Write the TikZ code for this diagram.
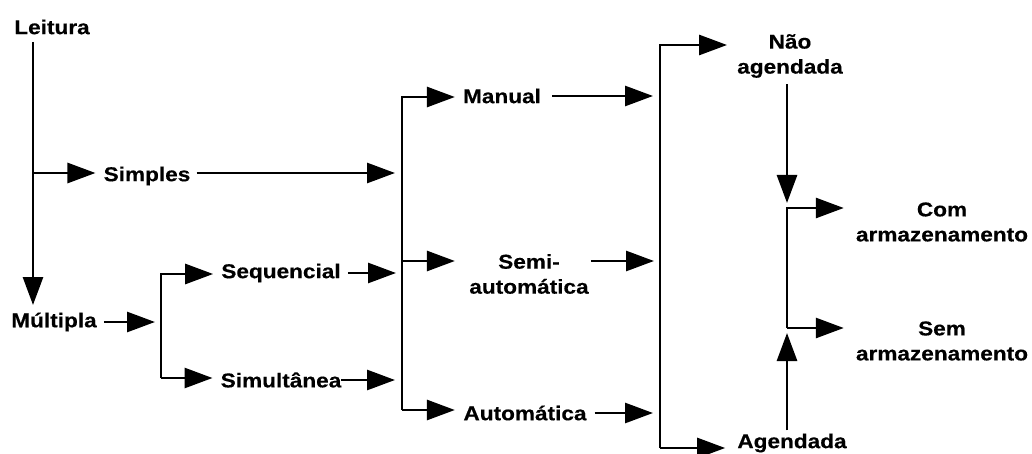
\documentclass[tikz,border=0pt]{standalone}
\usepackage{fontspec}
\setmainfont{Liberation Sans}[FakeStretch=1.13, BoldFeatures={FakeBold=0.4}]
\usetikzlibrary{arrows.meta}
\begin{document}
\begin{tikzpicture}[x=1pt,y=-1pt,
  lbl/.style={font=\fontsize{20}{25}\selectfont\bfseries, inner sep=0pt, align=center},
  line/.style={line width=2.8pt},
  arr/.style={line, -{Triangle[length=28pt,width=20pt]}}]
\useasboundingbox (0,0) rectangle (1032,454);

% labels
\node[lbl] (leitura)    at (52,27)   {Leitura};
\node[lbl] (simples)    at (147,176) {Simples};
\node[lbl] (multipla)   at (54,322)  {Múltipla};
\node[lbl] (sequencial) at (281,273) {Sequencial};
\node[lbl] (simultanea) at (281,380) {Simultânea};
\node[lbl] (manual)     at (502,96)  {Manual};
\node[lbl] (semi)       at (529,274) {Semi-\\automática};
\node[lbl] (automatica) at (525,413) {Automática};
\node[lbl] (nao)        at (790,56)  {Não\\agendada};
\node[lbl] (agendada)   at (792,443) {Agendada};
\node[lbl] (com)        at (942,222) {Com\\armazenamento};
\node[lbl] (sem)        at (942,341) {Sem\\armazenamento};

% trunk and bracket corners
\coordinate (lt)  at (33,42);
\coordinate (lb)  at (33,305);
\coordinate (ls)  at (33,173);
\coordinate (b1t) at (402,97);
\coordinate (b1m) at (402,261);
\coordinate (b1b) at (402,410);
\coordinate (b2t) at (161,274);
\coordinate (b2b) at (161,378);
\coordinate (b3t) at (660,45);
\coordinate (b3b) at (660,448);
\coordinate (b4t) at (787,208);
\coordinate (b4b) at (787,328);

% Leitura
\draw[arr] (lt) -- (lb);
\draw[arr, shorten >=8pt] (ls) -- (simples.west |- ls);
\draw[arr, shorten <=6pt, shorten >=7pt] (simples.east |- ls) -- (b1t |- ls);

% Múltipla
\draw[arr, shorten <=7pt, shorten >=6pt] (multipla.east) -- (b2t |- multipla.east);
\draw[arr, shorten >=8pt] (b2b) -- (b2t) -- (sequencial.west |- b2t);
\draw[arr, shorten >=8pt] (b2b) -- (simultanea.west |- b2b);
\draw[arr, shorten <=7pt, shorten >=6pt] (sequencial.east) -- (b1t |- sequencial.east);
\draw[arr, shorten >=7pt] (simultanea.east) -- (b1t |- simultanea.east);

% modo
\draw[arr, shorten >=8pt] (b1b) -- (b1t) -- (manual.west |- b1t);
\draw[arr, shorten >=8pt] (b1m) -- (manual.west |- b1m);
\draw[arr, shorten >=8pt] (b1b) -- (manual.west |- b1b);
\draw[arr, shorten <=11pt, shorten >=7pt] (manual.east) -- (b3t |- manual.east);
\draw[arr, shorten <=2pt, shorten >=6pt] (semi.east |- b1m) -- (b3t |- b1m);
\draw[arr, shorten <=8pt, shorten >=7pt] (automatica.east) -- (b3t |- automatica.east);

% agendamento
\draw[arr, shorten >=10pt] (b3b) -- (b3t) -- (nao.west |- b3t);
\draw[arr, shorten >=12pt] (b3b) -- (agendada.west |- b3b);
\draw[arr, shorten <=6pt, shorten >=5pt] (nao.south -| b4t) -- (b4t);
\draw[arr, shorten <=3pt, shorten >=5pt] (agendada.north -| b4b) -- (b4b);

% armazenamento
\draw[arr, shorten >=12pt] (b4b) -- (b4t) -- (com.west |- b4t);
\draw[arr, shorten >=12pt] (b4b) -- (sem.west |- b4b);
\end{tikzpicture}
\end{document}
